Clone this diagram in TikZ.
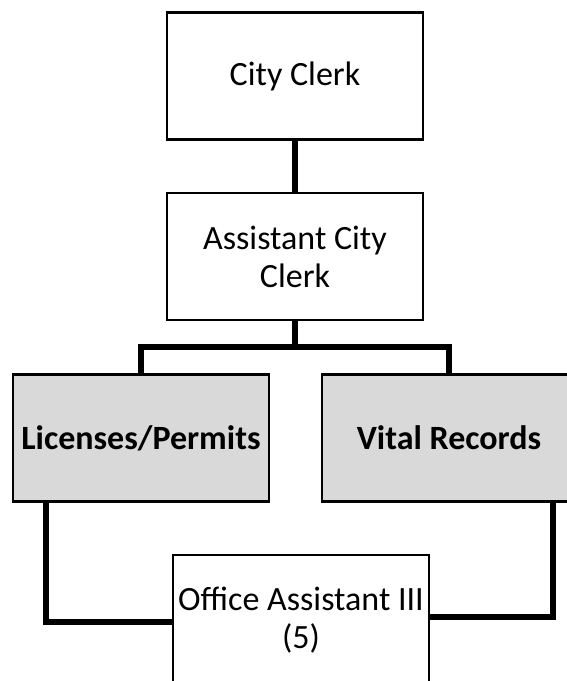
\documentclass[tikz,border=0pt]{standalone}
\usepackage{fontspec}
\setmainfont{Carlito}
\definecolor{boxgray}{HTML}{D9D9D9}
\begin{document}
\begin{tikzpicture}[x=1pt,y=-1pt,
  box/.style={draw=black, line width=2.3pt, fill=white, inner sep=0pt,
    align=center, font=\fontsize{34}{38}\selectfont,
    minimum width=256pt, minimum height=127pt},
  unit/.style={box, fill=boxgray, font=\fontsize{34}{38}\selectfont\bfseries},
  link/.style={line width=5.5pt, line join=miter}
]
\useasboundingbox (0,0) rectangle (566,681);

% positions
\node[box] (clerk) at (295,76) {City Clerk};
\node[box] (asst) at (295,256.5) {Assistant City\\Clerk};
\node[unit] (lic) at (141,438) {Licenses/Permits};
\node[unit, minimum width=254pt] (vital) at (449,438) {Vital Records};
\node[box, minimum height=130pt] (office) at (301,620) {Office Assistant III\\(5)};

\coordinate (bus) at (0,347);

% reporting lines
\draw[link] (clerk.south) -- (asst.north);
\draw[link] (asst.south) -- (asst.south |- bus) -| (lic.north);
\draw[link] (asst.south |- bus) -| (vital.north);
\draw[link] ([xshift=34pt]lic.south west) |- ([yshift=-68pt]office.north west);
\draw[link] ([xshift=-24pt]vital.south east) |- ([yshift=-63pt]office.north east);
\end{tikzpicture}
\end{document}
